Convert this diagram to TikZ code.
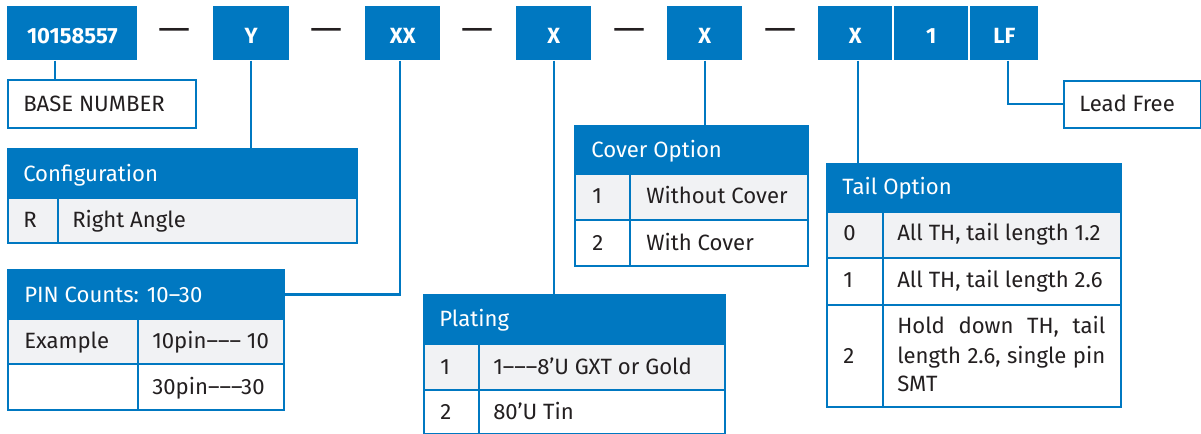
\documentclass[tikz,border=0pt]{standalone}
\usepackage{fontspec}
\setmainfont{Fira Sans}
\definecolor{iblue}{HTML}{0078C1}
\definecolor{rowgray}{HTML}{F1F2F4}
\definecolor{ink}{HTML}{231F20}
\newcommand\cellnode[7]{% style, name, x1, y1, x2, y2, fill
  \node[#1, fill=#7, anchor=north west, minimum width={(#5-#3)*0.75pt}, minimum height={(#6-#4)*0.75pt}] (#2) at (#3,#4) {};}
\begin{document}
\begin{tikzpicture}[x=0.75pt,y=-0.75pt,
  topbox/.style={fill=iblue, inner sep=0pt, text=white, anchor=north west,
    font=\fontsize{16.5}{19}\selectfont\bfseries, text height=15pt, text depth=0pt},
  hdr/.style={draw=iblue, line width=1.5pt, inner sep=0pt},
  cell/.style={draw=iblue, line width=1.5pt, inner sep=0pt},
  htxt/.style={anchor=base west, inner sep=0pt, text=white, font=\fontsize{16.6}{19}\selectfont},
  ctxt/.style={anchor=base west, inner sep=0pt, text=ink, font=\fontsize{16.6}{19}\selectfont},
  sep/.style={inner sep=0pt, text=ink, font=\fontsize{16}{19}\selectfont},
  conn/.style={draw=iblue, line width=1.5pt}]
\useasboundingbox (0,0) rectangle (1201,434);

% top code boxes
\node[topbox, minimum width={130*0.75pt}, minimum height={54*0.75pt}] (b1) at (7,6) {10158557};
\node[topbox, minimum width={76*0.75pt}, minimum height={54*0.75pt}] (by) at (213,6) {Y};
\node[topbox, minimum width={75*0.75pt}, minimum height={54*0.75pt}] (bxx) at (365,6) {XX};
\node[topbox, minimum width={75*0.75pt}, minimum height={54*0.75pt}] (bxp) at (516,6) {X};
\node[topbox, minimum width={75*0.75pt}, minimum height={54*0.75pt}] (bxc) at (667,6) {X};
\node[topbox, minimum width={74*0.75pt}, minimum height={54*0.75pt}] (bxt) at (818,6) {X};
\node[topbox, minimum width={74*0.75pt}, minimum height={54*0.75pt}] (bone) at (894,6) {1};
\node[topbox, minimum width={68*0.75pt}, minimum height={54*0.75pt}] (blf) at (970,6) {LF};

% dashes
\node[sep] (d1) at (175,34) {\scalebox{1.9}[1.6]{—}};
\node[sep] (d2) at (327,34) {\scalebox{1.9}[1.6]{—}};
\node[sep] (d3) at (478,34) {\scalebox{1.9}[1.6]{—}};
\node[sep] (d4) at (629,34) {\scalebox{1.9}[1.6]{—}};
\node[sep] (d5) at (780,34) {\scalebox{1.9}[1.6]{—}};

% base number
\cellnode{cell}{base}{7}{79}{195}{127}{white}
\node[ctxt] (baset) at (23,112) {BASE NUMBER};

% lead free
\cellnode{cell}{lf}{1063}{80}{1200}{127}{white}
\node[ctxt] (lft) at (1079,112) {Lead Free};

% Configuration table
\cellnode{hdr}{cfgh}{7}{148}{356}{197}{iblue}
\cellnode{cell}{cfga}{7}{197}{57}{242}{rowgray}
\cellnode{cell}{cfgb}{57}{197}{356}{242}{rowgray}
\node[htxt] (cfght) at (23,181.5) {Configuration};
\node[ctxt] (cfgat) at (23,227.5) {R};
\node[ctxt] (cfgbt) at (72,227.5) {Right Angle};

% PIN table
\cellnode{hdr}{pinh}{7}{269}{283}{318}{iblue}
\cellnode{cell}{pina}{7}{318}{137}{363}{rowgray}
\cellnode{cell}{pinb}{137}{318}{283}{363}{rowgray}
\cellnode{cell}{pinc}{7}{363}{137}{409}{white}
\cellnode{cell}{pind}{137}{363}{283}{409}{white}
\node[htxt] (pinht) at (24,302.5) {PIN Counts: 10–30};
\node[ctxt] (pinat) at (24,348.5) {Example};
\node[ctxt] (pinbt) at (152,348.5) {10pin––– 10};
\node[ctxt] (pindt) at (152,394) {30pin–––30};

% Cover table
\cellnode{hdr}{covh}{574}{125}{807}{173}{iblue}
\cellnode{cell}{cova}{574}{173}{629}{219}{rowgray}
\cellnode{cell}{covb}{629}{173}{807}{219}{rowgray}
\cellnode{cell}{covc}{574}{219}{629}{265}{white}
\cellnode{cell}{covd}{629}{219}{807}{265}{white}
\node[htxt] (covht) at (591,158) {Cover Option};
\node[ctxt] (covat) at (592,204) {1};
\node[ctxt] (covbt) at (646,204) {Without Cover};
\node[ctxt] (covct) at (592,250.5) {2};
\node[ctxt] (covdt) at (646,250.5) {With Cover};

% Plating table
\cellnode{hdr}{plah}{423}{294}{724}{343}{iblue}
\cellnode{cell}{plaa}{423}{343}{478}{389}{rowgray}
\cellnode{cell}{plab}{478}{343}{724}{389}{rowgray}
\cellnode{cell}{plac}{423}{389}{478}{433}{white}
\cellnode{cell}{plad}{478}{389}{724}{433}{white}
\node[htxt] (plaht) at (439,326.5) {Plating};
\node[ctxt] (plaat) at (440,374) {1};
\node[ctxt] (plabt) at (493,374) {1–––8’U GXT or Gold};
\node[ctxt] (plact) at (440,419) {2};
\node[ctxt] (pladt) at (493,419) {80’U Tin};

% Tail table
\cellnode{hdr}{tlh}{826}{163}{1120}{211}{iblue}
\cellnode{cell}{tla}{826}{211}{882}{257}{rowgray}
\cellnode{cell}{tlb}{882}{211}{1120}{257}{rowgray}
\cellnode{cell}{tlc}{826}{257}{882}{304}{white}
\cellnode{cell}{tld}{882}{257}{1120}{304}{white}
\cellnode{cell}{tle}{826}{304}{882}{406}{white}
\cellnode{cell}{tlf}{882}{304}{1120}{406}{white}
\node[htxt] (tlht) at (842,195) {Tail Option};
\node[ctxt] (tlat) at (843,241) {0};
\node[ctxt] (tlbt) at (897,241) {All TH, tail length 1.2};
\node[ctxt] (tlct) at (843,287) {1};
\node[ctxt] (tldt) at (897,287) {All TH, tail length 2.6};
\node[ctxt] (tlet) at (843,363) {2};
\node[ctxt] (tlf1) at (897,333) {\makebox[156pt][s]{Hold down TH, tail}};
\node[ctxt] (tlf2) at (897,363) {\makebox[156pt][s]{length 2.6, single pin}};
\node[ctxt] (tlf3) at (897,391.5) {SMT};

% connectors
\draw[conn] ([xshift=-12.75pt]b1.south) -- ([xshift=-12.75pt]b1.south |- base.north);
\draw[conn] (by.south) -- (by.south |- cfgh.north);
\draw[conn] ([xshift=-1.9pt]bxx.south) -- ([xshift=-1.9pt]bxx.south |- pinh.east) -- (pinh.east);
\draw[conn] (bxp.south) -- (bxp.south |- plah.north);
\draw[conn] (bxc.south) -- (bxc.south |- covh.north);
\draw[conn] ([xshift=2.25pt]bxt.south) -- ([xshift=2.25pt]bxt.south |- tlh.north);
\draw[conn] ([xshift=3pt]blf.south) -- ([xshift=3pt]blf.south |- lf.west) -- (lf.west);
\end{tikzpicture}
\end{document}
